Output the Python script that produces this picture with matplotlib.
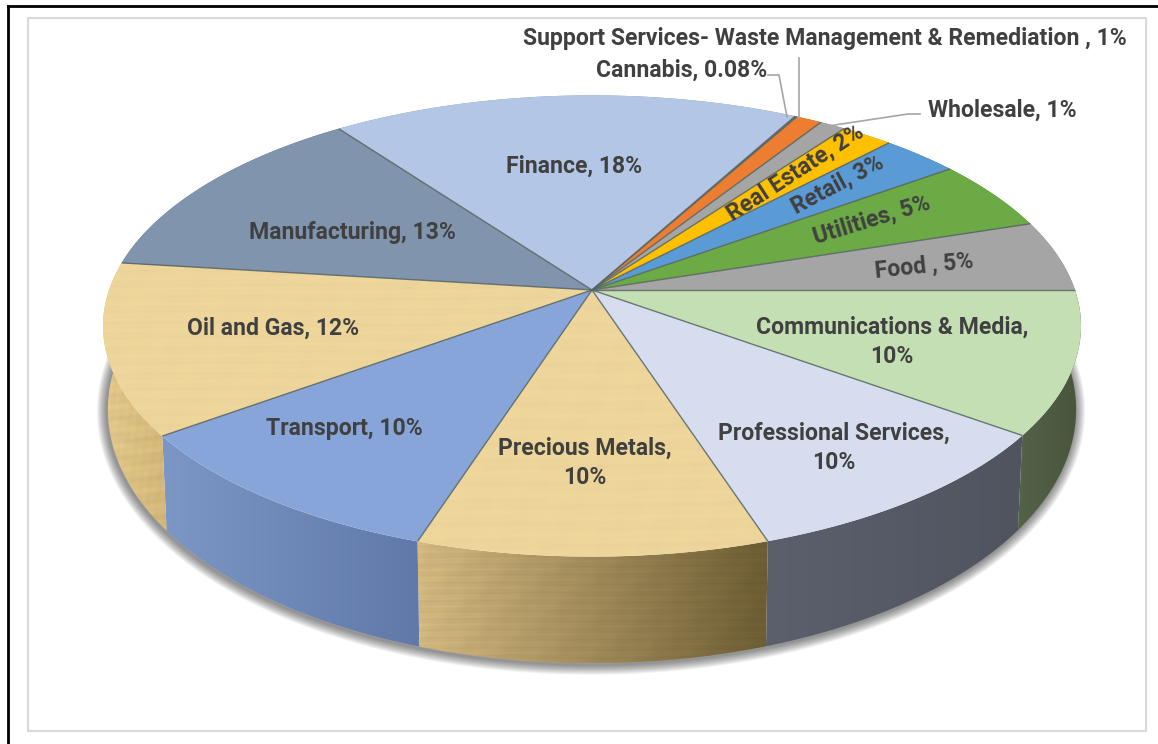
import numpy as np
import matplotlib
matplotlib.use("Agg")
import matplotlib.pyplot as plt
from matplotlib.patches import Polygon, Rectangle

plt.rcParams['font.family'] = ['Roboto', 'Liberation Sans', 'DejaVu Sans']

# Sectors, clockwise from the right-hand side of the disc
setores = ["Communications & Media", "Professional Services", "Precious Metals", "Transport",
           "Oil and Gas", "Manufacturing", "Finance", "Cannabis",
           "Support Services", "Wholesale", "Real Estate", "Retail", "Utilities", "Food"]
valores = [10, 10, 10, 10, 12, 13, 18, 0.08, 1, 1, 2, 3, 5, 5]
cores_topo = ["#C5DFB4", "#D6DDEF", "#EDD59B", "#88A5DA", "#EDD59B", "#8094AE", "#B3C6E5", "#6F7F95",
              "#ED7D31", "#A5A5A5", "#FFC000", "#5B9BD5", "#6BAA45", "#A5A5A5"]
cores_lateral = [("#55624A", "#48553C"), ("#5B606C", "#50545F"), ("#D2B77F", "#6C5C33"), ("#7C96C6", "#6079A8"),
                 ("#E2C88C", "#D3B678"), ("#5F6F85", "#5F6F85"), ("#8495AD", "#8495AD"), ("#555F70", "#555F70"),
                 ("#B05C24", "#B05C24"), ("#7C7C7C", "#7C7C7C"), ("#BF9000", "#BF9000"), ("#44749F", "#44749F"),
                 ("#507F34", "#507F34"), ("#7C7C7C", "#7C7C7C")]
com_textura = ["Precious Metals", "Oil and Gas"]

# Disc projection: hub position, half axes and perspective
cx, cy = 592, 290
a, b, p = 483, 225, 0.156
# Lower rim of the cylinder
esc_x, esc_y, base_y = 0.99, 1.10, 370


def projetar(theta):
    u, v = np.cos(theta), np.sin(theta)
    d = 1 + p * v
    return a * u / d, b * v / d


def borda_topo(theta):
    x, y = projetar(theta)
    return np.column_stack([cx + x, cy - y])


def borda_base(theta):
    x, y = projetar(theta)
    return np.column_stack([cx + esc_x * x, base_y - esc_y * y])


def textura(n=400):
    # Paper grain built from a few overlaid waves, mostly horizontal streaks
    yy, xx = np.mgrid[0:n, 0:n]
    t = (np.sin(yy * 0.21 + 0.6 * np.sin(xx * 0.02)) + 0.7 * np.sin(yy * 0.53 + xx * 0.015)
         + 0.5 * np.sin(xx * 0.11 + yy * 0.05) + 0.3 * np.sin(xx * 0.29 + 1))
    return t / np.abs(t).max()


def hex_rgb(c):
    return np.array(matplotlib.colors.to_rgb(c))


def preencher(ax, pontos, esq, dir, tex=0.0):
    # Left-to-right gradient clipped to the polygon
    x0, x1 = pontos[:, 0].min(), pontos[:, 0].max()
    y0, y1 = pontos[:, 1].min(), pontos[:, 1].max()
    t = np.linspace(0, 1, 400)[None, :, None]
    img = hex_rgb(esq)[None, None, :] * (1 - t) + hex_rgb(dir)[None, None, :] * t
    img = np.repeat(img, 400, axis=0)
    if tex:
        img = img * (1 + tex * textura()[:, :, None])
    im = ax.imshow(np.clip(img, 0, 1), extent=(x0, x1, y1, y0), aspect='auto', interpolation='bilinear', zorder=3)
    clip = Polygon(pontos, closed=True, transform=ax.transData)
    im.set_clip_path(clip)


fig = plt.figure(figsize=(11.58, 7.44), dpi=100)
ax = fig.add_axes([0, 0, 1, 1])
ax.set_xlim(0, 1158)
ax.set_ylim(744, 0)
ax.axis('off')

# Outer black lines and inner light frame
ax.plot([8, 8], [744, 6], color='black', lw=2.0, zorder=1)
ax.plot([8, 1158], [6, 6], color='black', lw=2.0, zorder=1)
ax.add_patch(Rectangle((28, 17.5), 1118, 713, fc='white', ec='#D9D9D9', lw=1.5, zorder=1))

# Sector limits in radians, going clockwise
acumulado = np.concatenate([[0], np.cumsum(valores)])
limites = -acumulado / 100.08 * 2 * np.pi

# Soft shadow under the cylinder
todo = np.linspace(0, 2 * np.pi, 361)
contorno = borda_base(todo)
for w in np.arange(20, 1, -2):
    ax.add_patch(Polygon(contorno + [-1, 1.5], closed=True, fc='none', ec='black', lw=w * 0.72,
                         alpha=0.05, zorder=2, joinstyle='round'))

# Side walls
for i, nome in enumerate(setores):
    th = np.linspace(limites[i], limites[i + 1], 60)
    pts = np.vstack([borda_topo(th), borda_base(th)[::-1]])
    preencher(ax, pts, cores_lateral[i][0], cores_lateral[i][1], 0.04 if nome in com_textura else 0)

# Top faces
for i, nome in enumerate(setores):
    th = np.linspace(limites[i], limites[i + 1], 60)
    pts = np.vstack([[cx, cy], borda_topo(th)])
    if nome in com_textura:
        preencher(ax, pts, cores_topo[i], cores_topo[i], 0.015)
    else:
        ax.add_patch(Polygon(pts, closed=True, fc=cores_topo[i], ec='none', zorder=4))

# Dark lines between sectors
for lim in limites[:-1]:
    ponta = borda_topo(np.array([lim]))[0]
    ax.plot([cx, ponta[0]], [cy, ponta[1]], color='#56645F', lw=1.0, alpha=0.85, zorder=5, solid_capstyle='butt')

# Leader lines
cor_guia = '#A6A6A6'
ax.plot([768, 779, 787], [75, 75, 117], color=cor_guia, lw=1.2, zorder=6)
ax.plot([799, 799], [58, 118], color=cor_guia, lw=1.2, zorder=6)
ax.plot([920, 908, 828], [114, 114, 126], color=cor_guia, lw=1.2, zorder=6)

# Labels
estilo = dict(color='#404040', fontweight='bold', fontsize=16.6, va='center', ha='center', zorder=7,
              linespacing=1.35)
ax.text(825, 38, "Support Services- Waste Management & Remediation , 1%", **estilo)
ax.text(682, 70, "Cannabis, 0.08%", **estilo)
ax.text(1002, 110, "Wholesale, 1%", **estilo)
ax.text(574, 166, "Finance, 18%", **estilo)
ax.text(352, 232, "Manufacturing, 13%", **estilo)
ax.text(273, 328, "Oil and Gas, 12%", **estilo)
ax.text(344, 428, "Transport, 10%", **estilo)
ax.text(585, 463, "Precious Metals,\n10%", **estilo)
ax.text(834, 448, "Professional Services,\n10%", **estilo)
ax.text(892, 342, "Communications & Media,\n10%", **estilo)
ax.text(795, 173, "Real Estate, 2%", rotation=33, rotation_mode='anchor', **estilo)
ax.text(838, 185, "Retail, 3%", rotation=28, rotation_mode='anchor', **estilo)
ax.text(872, 220, "Utilities, 5%", rotation=17, rotation_mode='anchor', **estilo)
ax.text(924, 266, "Food , 5%", rotation=6, rotation_mode='anchor', **estilo)

ax.set_xlim(0, 1158)
ax.set_ylim(744, 0)
fig.savefig("out.png", dpi=100)
